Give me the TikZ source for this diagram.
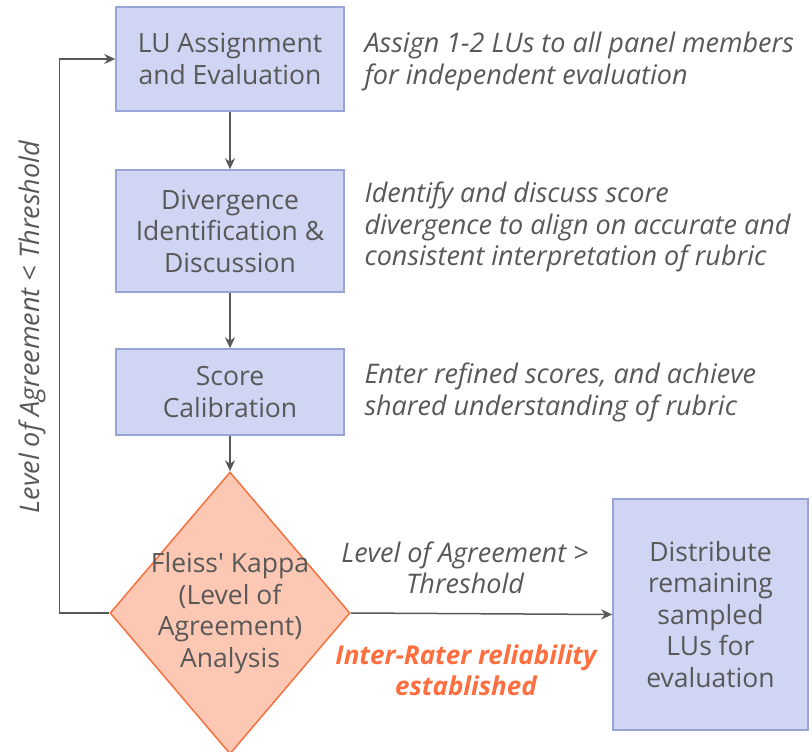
\documentclass[tikz,border=0pt]{standalone}
\usepackage{fontspec}
\setmainfont{Open Sans}
\usetikzlibrary{arrows.meta,positioning,shapes.geometric}
\definecolor{boxfill}{RGB}{207,213,243}
\definecolor{boxline}{RGB}{152,163,214}
\definecolor{kapfill}{RGB}{252,200,180}
\definecolor{kapline}{RGB}{247,112,64}
\definecolor{txtgray}{RGB}{88,88,88}
\definecolor{hiorange}{RGB}{255,110,62}
\newcommand{\boxfont}{\fontsize{26.5}{31.5}\selectfont}
\newcommand{\notefont}{\fontsize{27}{31.5}\selectfont\itshape}
\newcommand{\hifont}{\fontsize{26}{31.5}\selectfont\itshape\bfseries}
\tikzset{
  stepbox/.style={draw=boxline,fill=boxfill,line width=1.5pt,text=txtgray,
                  align=center,font=\boxfont,inner sep=0pt,minimum width=228pt},
  note/.style={text=txtgray,align=left,anchor=west,font=\notefont},
  flow/.style={draw=txtgray,line width=1.5pt,-{Stealth[length=11pt,width=10pt]}}
}

\begin{document}
\begin{tikzpicture}[x=1pt,y=-1pt]
  \useasboundingbox (0,0) rectangle (812,752);

  % process steps
  \node[stepbox,minimum height=104pt] (assign) at (230,59)
    {LU Assignment\\and Evaluation};
  \node[stepbox,minimum height=122pt] (diverge) at (230,231)
    {Divergence\\Identification \&\\Discussion};
  \node[stepbox,minimum height=86pt] (calib) at (230,392)
    {Score\\Calibration};
  \node[diamond,draw=kapline,fill=kapfill,line width=1.5pt,inner sep=0pt,
        minimum width=240pt,minimum height=282pt,
        label={[text=txtgray,align=center,font=\boxfont]center:Fleiss\textquotesingle{} Kappa\\(Level of\\Agreement)\\Analysis}]
    (kappa) at (230,613) {};
  \node[stepbox,minimum width=195pt,minimum height=231pt] (distrib) at (710.5,614.5)
    {Distribute\\remaining\\sampled\\LUs for\\evaluation};

  % notes beside the steps
  \node[note] (assignnote) at (361,61.5)
    {Assign 1-2 LUs to all panel members\\for independent evaluation};
  \node[note] (divergenote) at (361,227)
    {Identify and discuss score\\divergence to align on accurate and\\consistent interpretation of rubric};
  \node[note] (calibnote) at (361,392.5)
    {Enter refined scores, and achieve\\shared understanding of rubric};

  % connectors
  \draw[flow] (assign) -- (diverge);
  \draw[flow] (diverge) -- (calib);
  \draw[flow] (calib) -- (kappa);
  \draw[flow] (kappa.east) -- (distrib.west);
  \draw[flow] (kappa.west) -- ++(-50,0) coordinate (loopcorner) |- (assign.west);

  % branch labels
  \node[text=txtgray,font=\notefont,align=center] (gtlabel) at (465,568)
    {Level of Agreement >\\Threshold};
  \node[text=hiorange,font=\hifont,align=center] (reliable) at (466,670)
    {Inter-Rater reliability\\established};
  \node[text=txtgray,font=\notefont,rotate=90] (ltlabel) at (32,327)
    {Level of Agreement < Threshold};
\end{tikzpicture}
\end{document}
